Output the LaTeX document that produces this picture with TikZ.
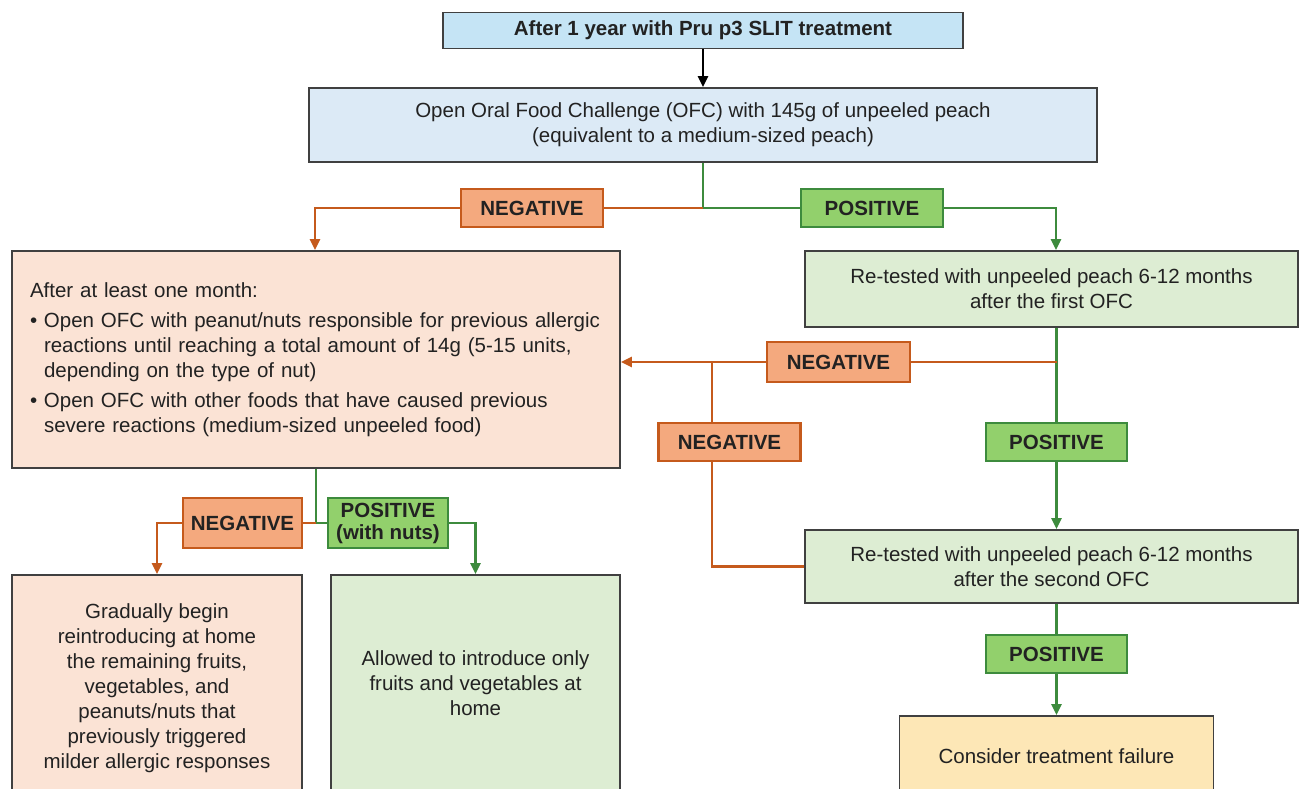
\documentclass[tikz,border=0pt]{standalone}
\usepackage{fontspec}
\setmainfont{Liberation Sans}
\usetikzlibrary{arrows.meta,calc}
\definecolor{topblue}{HTML}{C5E4F5}
\definecolor{ofcblue}{HTML}{DCEAF6}
\definecolor{peach}{HTML}{FBE3D5}
\definecolor{lgreen}{HTML}{DDEDD3}
\definecolor{lyellow}{HTML}{FDE7B6}
\definecolor{oline}{HTML}{C55A1C}
\definecolor{ofill}{HTML}{F4A97E}
\definecolor{gline}{HTML}{3D8B3D}
\definecolor{gfill}{HTML}{92D06C}
\definecolor{bord}{HTML}{404040}
\definecolor{txt}{HTML}{222222}
\tikzset{
  box/.style={draw=bord, line width=1.8pt, inner sep=0pt, align=center, text=txt,
    font=\fontsize{20.5}{25}\selectfont},
  neglab/.style={draw=oline, fill=ofill, line width=2.6pt, inner sep=0pt, align=center, text=txt,
    font=\fontsize{20.5}{22}\selectfont\bfseries},
  poslab/.style={draw=gline, fill=gfill, line width=2.6pt, inner sep=0pt, align=center, text=txt,
    font=\fontsize{20.5}{22}\selectfont\bfseries},
  oconn/.style={draw=oline, line width=2.4pt},
  gconn/.style={draw=gline, line width=2.4pt},
  tip/.style={-{Triangle[length=11pt,width=10pt]}},
}
\begin{document}
\begin{tikzpicture}[x=1pt,y=-1pt]
\clip (0,0) rectangle (1299,789);
\fill[white] (0,0) rectangle (1299,789);
% boxes
\node[box, fill=topblue, minimum width=520pt, minimum height=36pt, font=\fontsize{20.5}{25}\selectfont\bfseries] (top) at (703,30.5) {After 1 year with Pru p3 SLIT treatment};
\node[box, fill=ofcblue, minimum width=788pt, minimum height=74pt] (ofc) at (703,125) {Open Oral Food Challenge (OFC) with 145g of unpeeled peach\\(equivalent to a medium-sized peach)};
\node[neglab, minimum width=142pt, minimum height=38pt] (neg1) at (532,208) {NEGATIVE};
\node[poslab, minimum width=142pt, minimum height=38pt] (pos1) at (872,208) {POSITIVE};
\node[box, fill=peach, minimum width=608pt, minimum height=217pt, align=left, text width=572pt] (left) at (316,359.5) {After at least one month:\\[5pt]
\makebox[14pt][l]{•}Open OFC with peanut/nuts responsible for previous allergic\\
\hspace*{14pt}reactions until reaching a total amount of 14g (5-15 units,\\
\hspace*{14pt}depending on the type of nut)\\[5pt]
\makebox[14pt][l]{•}Open OFC with other foods that have caused previous\\
\hspace*{14pt}severe reactions (medium-sized unpeeled food)};
\node[box, fill=lgreen, minimum width=493pt, minimum height=76pt] (g1) at (1051.5,289) {Re-tested with unpeeled peach 6-12 months\\after the first OFC};
\node[neglab, minimum width=143pt, minimum height=40pt] (neg2) at (838.5,362) {NEGATIVE};
\node[neglab, minimum width=142pt, minimum height=38pt] (neg3) at (729.5,442) {NEGATIVE};
\node[poslab, minimum width=141pt, minimum height=38pt] (pos2) at (1056.5,442) {POSITIVE};
\node[box, fill=lgreen, minimum width=493pt, minimum height=73pt] (g2) at (1051.5,566.5) {Re-tested with unpeeled peach 6-12 months\\after the second OFC};
\node[poslab, minimum width=141pt, minimum height=38pt] (pos3) at (1056.5,654) {POSITIVE};
\node[box, fill=lyellow, minimum width=314pt, minimum height=80pt] (fail) at (1056.5,756) {Consider treatment failure};
\node[neglab, minimum width=119pt, minimum height=50pt] (neg4) at (242.5,523) {NEGATIVE};
\node[poslab, minimum width=120pt, minimum height=50pt] (pos4) at (388,523) {POSITIVE\\(with nuts)};
\node[box, fill=peach, minimum width=290pt, minimum height=226pt] (bl) at (157,688) {Gradually begin\\reintroducing at home\\the remaining fruits,\\vegetables, and\\peanuts/nuts that\\previously triggered\\milder allergic responses};
\node[box, fill=lgreen, minimum width=289pt, minimum height=216pt] (bm) at (475.5,683) {Allowed to introduce only\\fruits and vegetables at\\home};
% junctions
\coordinate (j1) at (703,208);
\coordinate (j2) at (1056.5,362);
\coordinate (j3) at (712,362);
\coordinate (j4) at (316,523);
% connectors
\draw[line width=2.4pt, tip] (top.south) -- (ofc.north);
\draw[gconn] (ofc.south) -- (j1) -- (pos1.west);
\draw[gconn, tip] (pos1.east) -| ([xshift=4.5pt]g1.north);
\draw[oconn] (j1) -- (neg1.east);
\draw[oconn, tip] (neg1.west) -| ([xshift=-1pt]left.north);
\draw[gconn] ([xshift=5pt]g1.south) -- (pos2.north);
\draw[gconn, tip] (pos2.south) -- ([xshift=5pt]g2.north);
\draw[oconn] (j2) -- (neg2.east);
\draw[oconn, tip] (neg2.west) -- (left.east |- neg2.west);
\draw[oconn] (j3) -- (j3 |- neg3.north);
\draw[oconn] (j3 |- neg3.south) |- (g2.west);
\draw[gconn] ([xshift=5pt]g2.south) -- (pos3.north);
\draw[gconn, tip] (pos3.south) -- (fail.north);
\draw[gconn] (left.south) -- (j4) -- (pos4.west);
\draw[gconn, tip] (pos4.east) -| (bm.north);
\draw[oconn] (j4) -- (neg4.east);
\draw[oconn, tip] (neg4.west) -| (bl.north);
\end{tikzpicture}
\end{document}
